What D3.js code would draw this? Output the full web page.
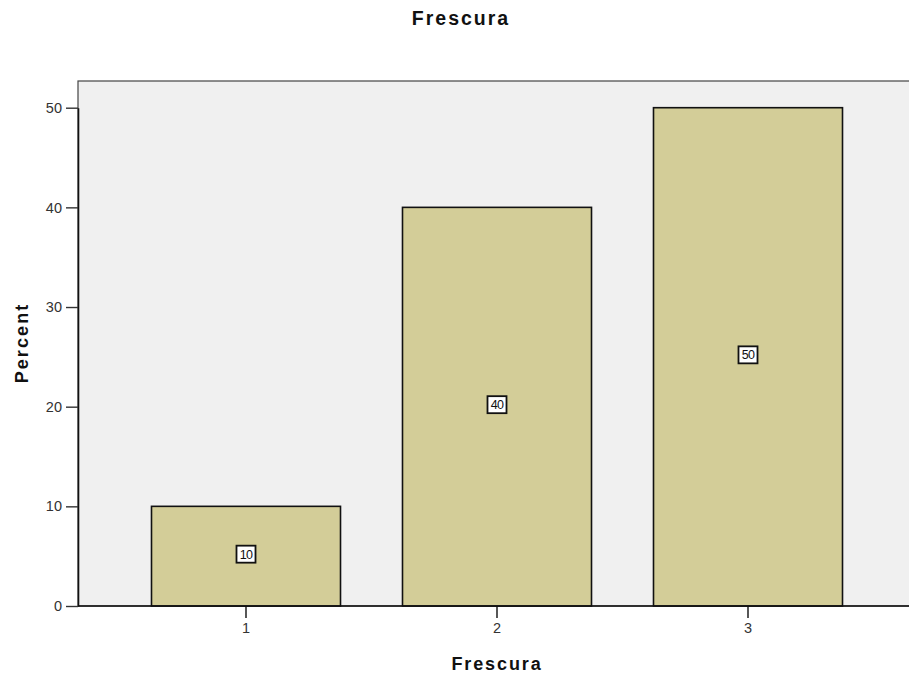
<!DOCTYPE html>
<html>
<head>
<meta charset="utf-8">
<script src="https://cdn.jsdelivr.net/npm/d3@7"></script>
<style>
  body { margin: 0; background: #fff; }
  svg text { font-family: "Liberation Sans", Arial, sans-serif; }
</style>
</head>
<body>
<div id="chart"></div>
<script>
// chart data
const categories = ["1", "2", "3"];
const percents = [10, 40, 50];
const yTicks = [0, 10, 20, 30, 40, 50];

const width = 909, height = 680;
const plot = { left: 78, top: 81, right: 912, bottom: 606 };

const svg = d3.select("#chart").append("svg")
  .attr("width", width)
  .attr("height", height);

// scales
const x = d3.scaleBand()
  .domain(categories)
  .range([120.5, 873.5])
  .paddingInner(0.247)
  .paddingOuter(0.1235);

const y = d3.scaleLinear()
  .domain([0, 50])
  .range([plot.bottom, 107.7]);

// plot background + frame
svg.append("rect")
  .attr("x", plot.left)
  .attr("y", plot.top)
  .attr("width", plot.right - plot.left)
  .attr("height", plot.bottom - plot.top)
  .attr("fill", "#f0f0f0")
  .attr("stroke", "#444")
  .attr("stroke-width", 1.2);

// bars
svg.selectAll("rect.bar")
  .data(percents)
  .enter()
  .append("rect")
  .attr("class", "bar")
  .attr("x", (d, i) => x(categories[i]))
  .attr("y", d => y(d))
  .attr("width", x.bandwidth())
  .attr("height", d => y(0) - y(d))
  .attr("fill", "#d3cd98")
  .attr("stroke", "#111")
  .attr("stroke-width", 1.6);

// value labels in boxes
const lab = svg.selectAll("g.lab")
  .data(percents)
  .enter()
  .append("g")
  .attr("class", "lab")
  .attr("transform", (d, i) => `translate(${x(categories[i]) + x.bandwidth() / 2},${y(d / 2) - 2})`);

lab.append("rect")
  .attr("x", -9.5)
  .attr("y", -8.5)
  .attr("width", 19)
  .attr("height", 17)
  .attr("fill", "#fff")
  .attr("stroke", "#111")
  .attr("stroke-width", 1.8);

lab.append("text")
  .attr("text-anchor", "middle")
  .attr("dy", "0.36em")
  .attr("font-size", 12.5)
  .attr("fill", "#111")
  .style("letter-spacing", "-0.6px")
  .text(d => d);

// y axis
const yAxis = svg.append("g")
  .attr("transform", `translate(${plot.left},0)`)
  .call(d3.axisLeft(y).tickValues(yTicks).tickSize(12).tickPadding(4).tickSizeOuter(0));
yAxis.select(".domain").attr("stroke", "#111").attr("stroke-width", 1.6);
yAxis.selectAll(".tick line").attr("stroke", "#333").attr("stroke-width", 1.4);
yAxis.selectAll("text")
  .attr("font-size", 14.5)
  .attr("fill", "#333")
  .style("font-family", "'Liberation Sans', Arial, sans-serif");

// x axis
const xAxis = svg.append("g")
  .attr("transform", `translate(0,${plot.bottom})`)
  .call(d3.axisBottom(x).tickSize(12).tickPadding(5).tickSizeOuter(0));
xAxis.select(".domain").attr("d", `M${plot.left},0H${plot.right}`)
  .attr("stroke", "#111").attr("stroke-width", 1.6);
xAxis.selectAll(".tick line").attr("stroke", "#111").attr("stroke-width", 1.4);
xAxis.selectAll("text")
  .attr("font-size", 14.5)
  .attr("fill", "#333")
  .style("font-family", "'Liberation Sans', Arial, sans-serif");

// titles
svg.append("text")
  .attr("x", 461)
  .attr("y", 25)
  .attr("text-anchor", "middle")
  .attr("font-size", 19.5)
  .attr("font-weight", "bold")
  .attr("fill", "#111")
  .style("letter-spacing", "2px")
  .text("Frescura");

svg.append("text")
  .attr("x", 497)
  .attr("y", 670)
  .attr("text-anchor", "middle")
  .attr("font-size", 18)
  .attr("font-weight", "bold")
  .attr("fill", "#111")
  .style("letter-spacing", "1.9px")
  .text("Frescura");

svg.append("text")
  .attr("transform", "translate(28,343) rotate(-90)")
  .attr("text-anchor", "middle")
  .attr("font-size", 18)
  .attr("font-weight", "bold")
  .attr("fill", "#111")
  .style("letter-spacing", "2.1px")
  .text("Percent");
</script>
</body>
</html>
